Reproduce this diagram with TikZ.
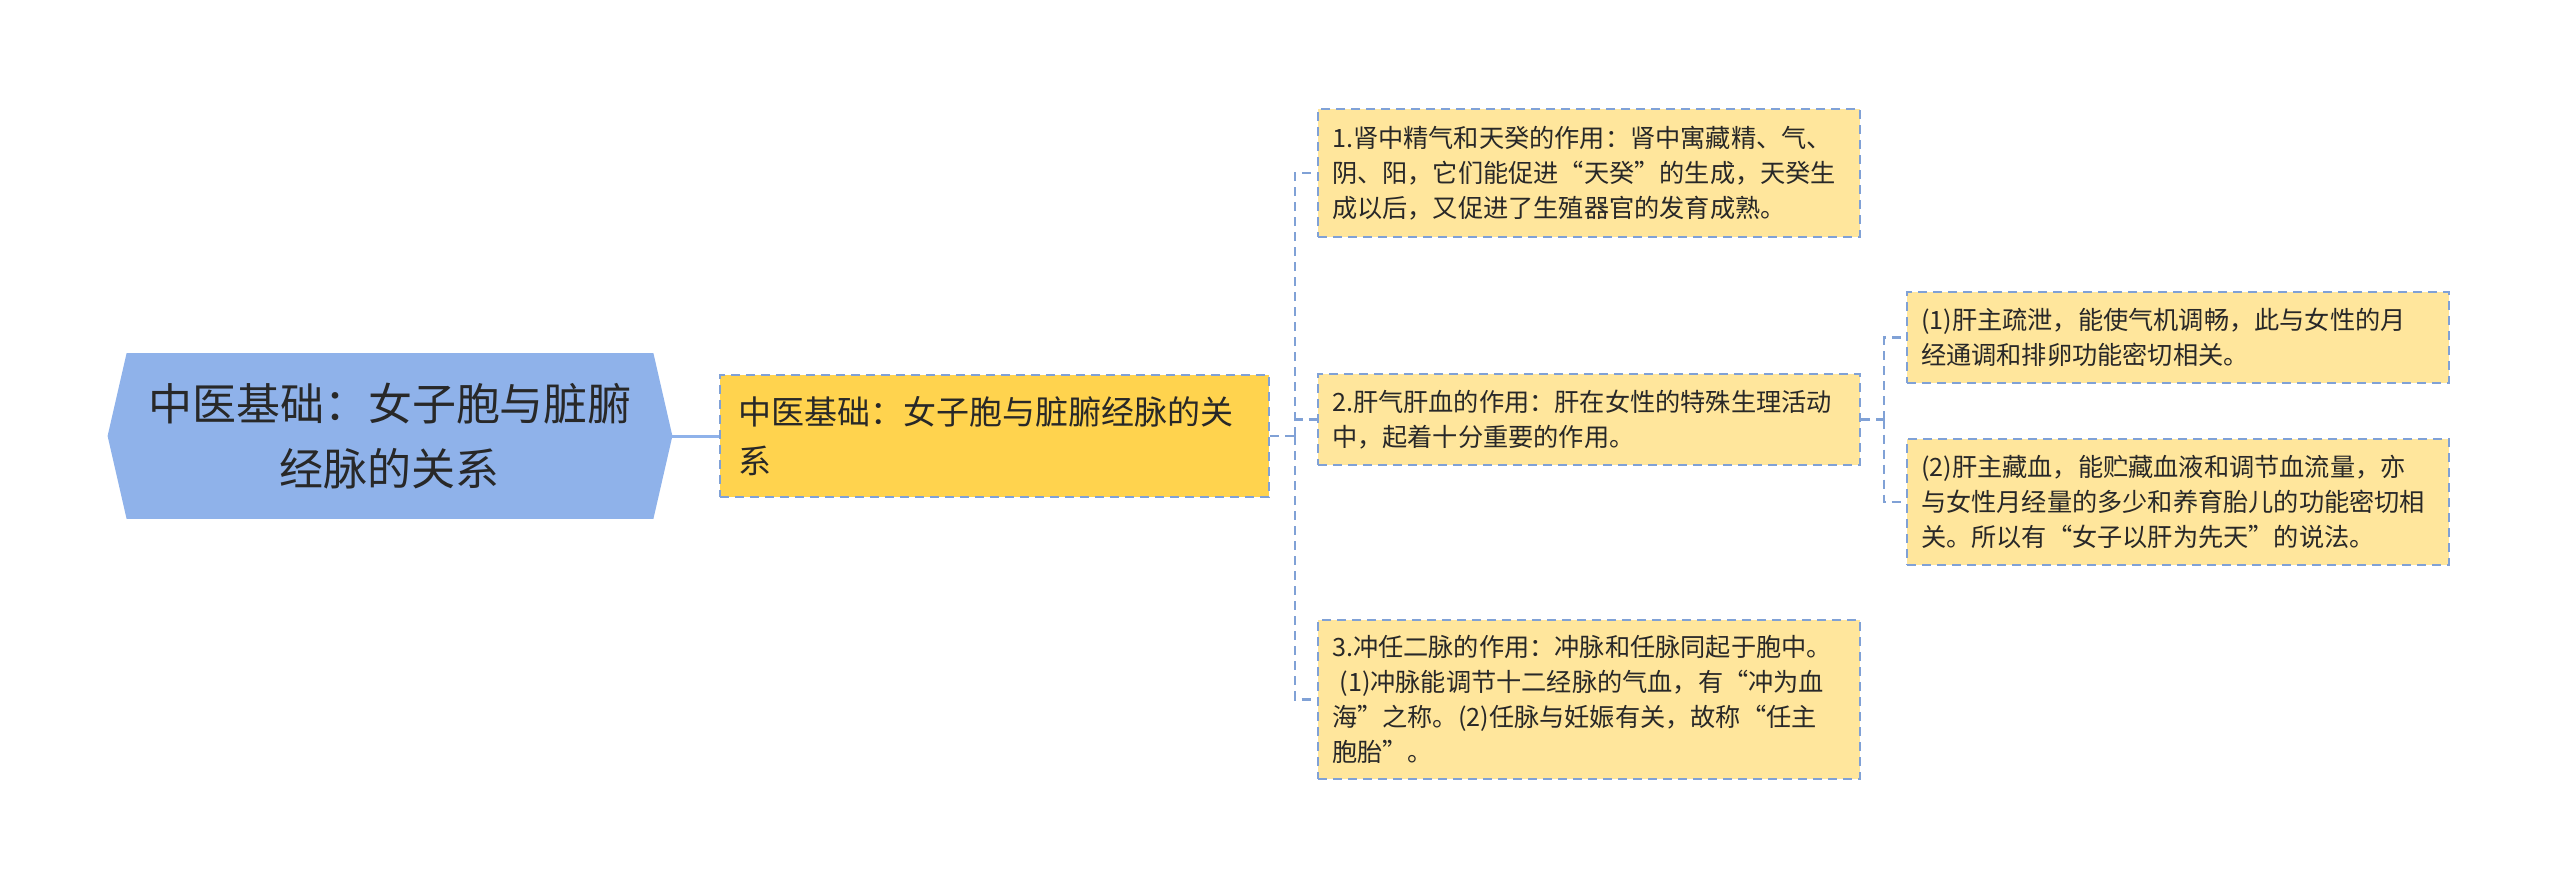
\documentclass[tikz,border=0pt]{standalone}
\usepackage{fontspec}
\setmainfont{Noto Sans CJK SC}
\usepackage{tikz}
\usetikzlibrary{calc}
\pgfdeclarelayer{bg}
\pgfsetlayers{bg,main}

\definecolor{rootblue}{RGB}{143,178,234}
\definecolor{maingold}{RGB}{255,211,78}
\definecolor{leafyellow}{RGB}{255,230,156}
\definecolor{edgeblue}{RGB}{128,161,214}
\definecolor{inkgray}{RGB}{40,40,40}

\begin{document}
\begin{tikzpicture}[x = 0.5pt, y = -0.5pt,
		box/.style = {draw = edgeblue, line width = 1.1pt, dash pattern = on 4.5pt off 3pt, inner xsep = 7pt, inner ysep = 0pt, align = left, text = inkgray},
		leaf/.style = {box, fill = leafyellow, text width = 257pt, font = \fontsize{12.6}{17.5}\selectfont},
		link/.style = {draw = edgeblue, line width = 1.1pt, dash pattern = on 4.5pt off 3pt},
		rootline/.style = {draw = rootblue, line width = 1.5pt}]
					\useasboundingbox (0,0) rectangle (2560,889);

					\begin{scope}
						\node (root) [minimum width = 263pt, minimum height = 82.5pt, align = center, text = inkgray, font = \fontsize{22}{32.5}\selectfont] at (390,436) {中医基础：女子胞与脏腑\\经脉的关系};
						\begin{pgfonlayer}{bg}
							\fill [rootblue] (root.north west) -- (root.north east) -- ($(root.east) + (19,0)$) -- (root.south east) -- (root.south west) -- ($(root.west) + (-19,0)$) -- cycle;
						\end{pgfonlayer}
						\node (main) [box, fill = maingold, inner xsep = 9pt, text width = 256.5pt, minimum height = 61pt, font = \fontsize{16.5}{24.5}\selectfont] at (994.5,436) {中医基础：女子胞与脏腑经脉的关\\系};
					\end{scope}

					\begin{scope}
						\node (c1) [leaf, minimum height = 64pt] at (1589,173) {1.肾中精气和天癸的作用：肾中寓藏精、气、\\阴、阳，它们能促进“天癸”的生成，天癸生\\成以后，又促进了生殖器官的发育成熟。};
						\node (c2) [leaf, minimum height = 45.5pt] at (1589,419.5) {2.肝气肝血的作用：肝在女性的特殊生理活动\\中，起着十分重要的作用。};
						\node (c3) [leaf, minimum height = 79.5pt] at (1589,699.5) {3.冲任二脉的作用：冲脉和任脉同起于胞中。\\\hspace*{0.3em}(1)冲脉能调节十二经脉的气血，有“冲为血\\海”之称。(2)任脉与妊娠有关，故称“任主\\胞胎”。};
						\node (g1) [leaf, minimum height = 45.5pt] at (2178,337.5) {(1)肝主疏泄，能使气机调畅，此与女性的月\\经通调和排卵功能密切相关。};
						\node (g2) [leaf, minimum height = 63pt] at (2178,502) {(2)肝主藏血，能贮藏血液和调节血流量，亦\\与女性月经量的多少和养育胎儿的功能密切相\\关。所以有“女子以肝为先天”的说法。};
					\end{scope}

					\coordinate (roottip) at ($(root.east) + (19,0)$);
					\coordinate (fork) at ($(main.east) + (25,0)$);
					\coordinate (fork2) at ($(c2.east) + (23,0)$);

					\begin{scope}
						\draw [rootline] (roottip) -- (main.west);
						\draw [link] (main.east) -- (fork);
						\foreach \n in {c1,c2,c3}
						{
							\draw [link] (fork) |- (\n.west);
						}
						\draw [link] (c2.east) -- (fork2);
						\foreach \n in {g1,g2}
						{
							\draw [link] (fork2) |- (\n.west);
						}
					\end{scope}
				\end{tikzpicture}
\end{document}
